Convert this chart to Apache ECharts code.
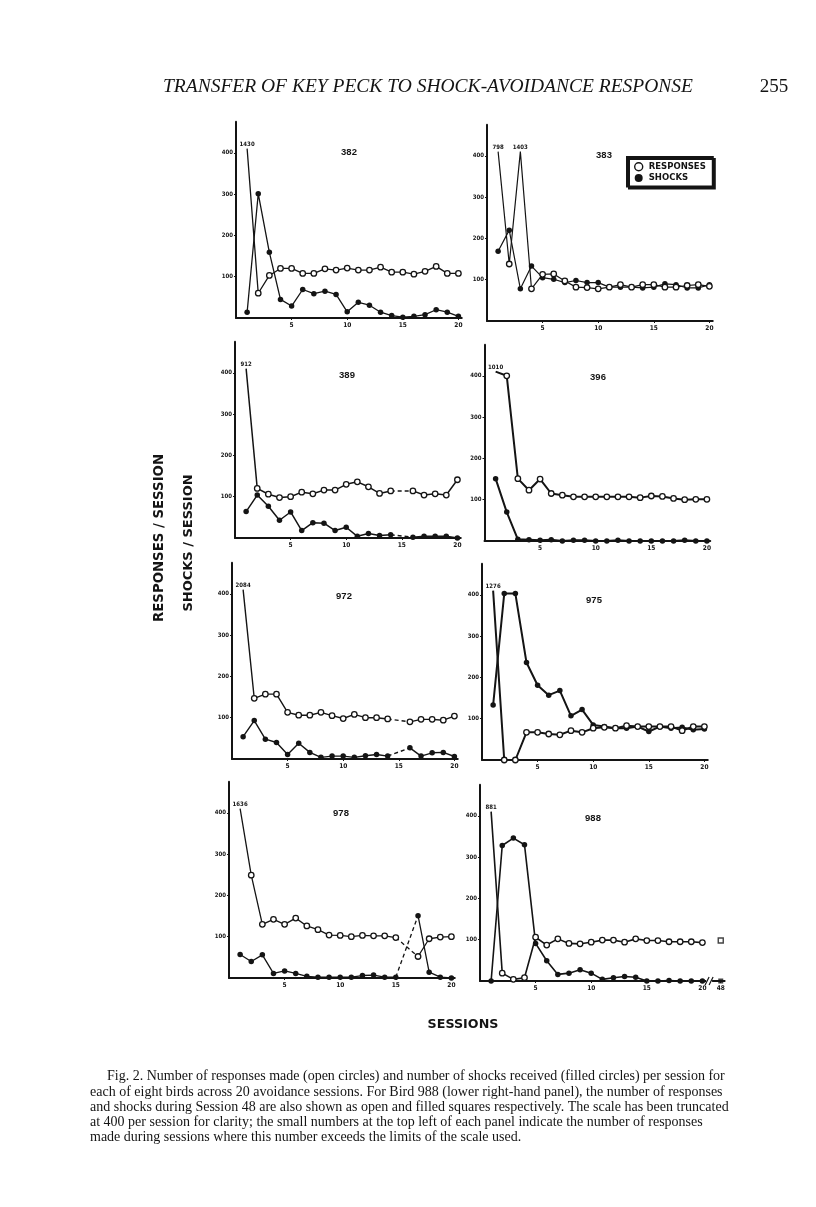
<!DOCTYPE html>
<html>
<head>
<meta charset="utf-8">
<script src="https://cdn.jsdelivr.net/npm/echarts@6.0.0/dist/echarts.min.js"></script>
<style>
  html, body { margin: 0; padding: 0; background: #fff; }
  #chart { width: 816px; height: 1207px; }
</style>
</head>
<body>
<div id="chart"></div>
<script>
// ---------------- DATA ----------------
const sessions = [1, 2, 3, 4, 5, 6, 7, 8, 9, 10, 11, 12, 13, 14, 15, 16, 17, 18, 19, 20];
const panelNames = ['382', '383', '389', '396', '972', '975', '978', '988'];

const resp382  = [1430, 60, 103, 120, 120, 108, 108, 119, 116, 121, 116, 116, 123, 111, 111, 106, 113, 125, 108, 108];
const shock382 = [14, 301, 159, 45, 29, 69, 59, 65, 57, 15, 38, 31, 14, 6, 2, 4, 8, 20, 14, 4];

const resp383  = [798, 138, 1403, 78, 113, 114, 97, 82, 81, 78, 82, 88, 82, 88, 88, 82, 82, 86, 88, 84];
const shock383 = [169, 220, 78, 133, 105, 101, 93, 98, 93, 93, 82, 82, 82, 80, 82, 90, 88, 80, 80, 88];

const resp389  = [912, 120, 106, 98, 100, 111, 107, 116, 116, 130, 136, 124, 108, 114, null, 114, 104, 107, 104, 141];
const shock389 = [64, 104, 77, 43, 63, 18, 37, 36, 18, 26, 4, 11, 6, 8, null, 2, 4, 4, 4, 0];

const resp396  = [1010, 400, 151, 123, 150, 115, 111, 107, 107, 107, 107, 107, 107, 105, 109, 108, 103, 100, 101, 101];
const shock396 = [151, 70, 4, 3, 2, 3, 0, 2, 2, 0, 0, 2, 0, 0, 0, 0, 0, 2, 0, 0];

const resp972  = [2084, 147, 157, 157, 113, 106, 106, 113, 105, 98, 108, 100, 100, 97, null, 90, 96, 96, 94, 104];
const shock972 = [54, 93, 48, 40, 11, 38, 16, 4, 7, 7, 4, 8, 11, 7, null, 27, 7, 15, 16, 6];

const resp975  = [1276, 0, 0, 67, 67, 63, 61, 71, 67, 77, 79, 77, 83, 81, 81, 81, 81, 71, 81, 81];
const shock975 = [133, 403, 403, 236, 181, 157, 168, 107, 122, 85, 81, 77, 77, 81, 69, 81, 77, 79, 73, 75];

const resp978  = [1636, 249, 130, 142, 130, 145, 126, 117, 104, 103, 100, 103, 102, 102, 98, null, 52, 95, 99, 100];
const shock978 = [57, 40, 56, 11, 17, 11, 4, 2, 2, 2, 2, 6, 7, 2, 2, null, 151, 14, 2, 0];

const resp988  = [881, 19, 4, 8, 106, 87, 102, 91, 90, 94, 99, 99, 94, 102, 98, 98, 95, 95, 95, 93];
const shock988 = [0, 328, 346, 330, 91, 49, 16, 19, 27, 19, 4, 8, 11, 9, 0, 0, 1, 0, 0, 0];

// Session 48 for bird 988 (squares)
const session48Label = '48';
const resp988s48 = 98;
const shock988s48 = 0;

const yTickValues = [100, 200, 300, 400];
const xTickValues = [5, 10, 15, 20];

const allResp  = [resp382, resp383, resp389, resp396, resp972, resp975, resp978, resp988];
const allShock = [shock382, shock383, shock389, shock396, shock972, shock975, shock978, shock988];

// ---------------- LAYOUT ----------------
const CAP = 410;        // off-scale values are drawn truncated here
const OFFSCALE = 450;
const Y_MAX = 475;
const PX_SESSION = 11.12;
const PX_100 = 41.3;
const S48_POS = 21.65;  // display position of session 48 after the axis break
const BREAK_POS = 20.6;

// [axis-left x, zero-line y, x max, line width]
const layout = [
  [236, 318, 20.3, 1.3],
  [487, 321, 20.3, 1.2],
  [235, 538, 20.3, 1.5],
  [484.5, 541, 20.3, 2.0],
  [232, 759, 20.3, 1.4],
  [482, 760, 20.3, 2.0],
  [229, 978, 20.3, 1.3],
  [480, 981, 22.0, 1.6]
];
const titlePos = [[349, 152], [604, 155], [347, 375], [598, 377], [344, 596], [594, 600], [341, 813], [593, 818]];

const INK = '#141414';
const NARROW = '"Liberation Sans Narrow","DejaVu Sans Condensed",sans-serif';

const grids = [], xAxes = [], yAxes = [], series = [];

function pointData(arr) {
  return sessions.map((s, i) => {
    const v = arr[i];
    if (v === null) return [s, '-'];
    if (v > OFFSCALE) {
      return {
        value: [s, CAP],
        symbol: 'circle',
        symbolSize: 1,
        itemStyle: { color: 'rgba(0,0,0,0)', borderColor: 'rgba(0,0,0,0)', borderWidth: 0 },
        label: {
          show: true, position: 'top', distance: 1,
          formatter: String(v),
          fontSize: 6, fontWeight: 'bold', color: INK, fontFamily: NARROW
        }
      };
    }
    return [s, v];
  });
}

function gapData(arr) {
  const out = [];
  arr.forEach((v, i) => {
    if (v === null && i > 0 && i < arr.length - 1) {
      if (out.length) out.push([sessions[i], '-']);
      out.push([sessions[i - 1], Math.min(arr[i - 1], CAP)]);
      out.push([sessions[i + 1], Math.min(arr[i + 1], CAP)]);
    }
  });
  return out;
}

panelNames.forEach((name, k) => {
  const [left, zero, xMax, lw] = layout[k];
  const h = Y_MAX * PX_100 / 100;
  grids.push({ left: left, top: zero - h, width: xMax * PX_SESSION, height: h });

  const isLast = k === 7;
  const xVals = isLast ? xTickValues.concat([S48_POS]) : xTickValues;
  xAxes.push({
    type: 'value', gridIndex: k, min: 0, max: xMax,
    axisLine: { show: true, onZero: false, lineStyle: { color: INK, width: 2 } },
    axisTick: { show: true, customValues: xVals, length: 2, lineStyle: { color: INK, width: 1 } },
    axisLabel: {
      show: true, customValues: xVals, margin: 4,
      fontSize: 6.5, fontWeight: 'bold', color: INK, fontFamily: NARROW,
      formatter: v => (Math.abs(v - S48_POS) < 1e-6 ? session48Label : (xTickValues.indexOf(v) >= 0 ? String(v) : ''))
    },
    splitLine: { show: false }
  });
  yAxes.push({
    type: 'value', gridIndex: k, min: 0, max: Y_MAX,
    axisLine: { show: true, onZero: false, lineStyle: { color: INK, width: 2 } },
    axisTick: { show: true, customValues: yTickValues, length: 2, lineStyle: { color: INK, width: 1 } },
    axisLabel: {
      show: true, customValues: yTickValues, margin: 3,
      fontSize: 6, fontWeight: 'bold', color: INK, fontFamily: NARROW,
      formatter: v => (yTickValues.indexOf(v) >= 0 ? String(v) : '')
    },
    splitLine: { show: false }
  });

  const resp = allResp[k], shock = allShock[k];
  series.push({
    name: 'SHOCKS', type: 'line', xAxisIndex: k, yAxisIndex: k,
    data: pointData(shock), connectNulls: false,
    symbol: 'circle', symbolSize: 5.5, showAllSymbol: true,
    itemStyle: { color: INK },
    lineStyle: { color: INK, width: lw },
    z: 3, clip: false
  });
  series.push({
    name: 'RESPONSES', type: 'line', xAxisIndex: k, yAxisIndex: k,
    data: pointData(resp), connectNulls: false,
    symbol: 'circle', symbolSize: 5.5, showAllSymbol: true,
    itemStyle: { color: '#fff', borderColor: INK, borderWidth: 1.3 },
    lineStyle: { color: INK, width: lw },
    z: 4, clip: false
  });
  const gr = gapData(resp), gs = gapData(shock);
  if (gr.length) series.push({
    name: 'responses (gap)', type: 'line', xAxisIndex: k, yAxisIndex: k, data: gr,
    symbol: 'none', lineStyle: { color: INK, width: lw, type: [4, 3] }, z: 2
  });
  if (gs.length) series.push({
    name: 'shocks (gap)', type: 'line', xAxisIndex: k, yAxisIndex: k, data: gs,
    symbol: 'none', lineStyle: { color: INK, width: lw, type: [4, 3] }, z: 2
  });
});

// Bird 988: session 48 squares and axis break
series.push({
  name: 'RESPONSES (session 48)', type: 'scatter', xAxisIndex: 7, yAxisIndex: 7,
  data: [[S48_POS, resp988s48]], symbol: 'rect', symbolSize: 5,
  itemStyle: { color: '#fff', borderColor: INK, borderWidth: 1.4 }, z: 5
});
series.push({
  name: 'SHOCKS (session 48)', type: 'scatter', xAxisIndex: 7, yAxisIndex: 7,
  data: [[S48_POS, shock988s48]], symbol: 'rect', symbolSize: 5,
  itemStyle: { color: INK }, z: 5, clip: false
});
series.push({
  name: 'axis break', type: 'custom', xAxisIndex: 7, yAxisIndex: 7,
  data: [[BREAK_POS, 0]], clip: false, z: 6,
  renderItem: (params, api) => {
    const c = api.coord([api.value(0), api.value(1)]);
    const mk = dx => ({ type: 'line', shape: { x1: c[0] + dx - 2, y1: c[1] + 4, x2: c[0] + dx + 2, y2: c[1] - 4 },
      style: { stroke: INK, lineWidth: 1.2 } });
    return { type: 'group', children: [
      { type: 'rect', shape: { x: c[0] - 3, y: c[1] - 2, width: 6, height: 4 }, style: { fill: '#fff' } },
      mk(-2), mk(2)
    ] };
  }
});

// ---------------- TEXT ----------------
const captionLines = [
  'Fig. 2. Number of responses made (open circles) and number of shocks received (filled circles) per session for',
  'each of eight birds across 20 avoidance sessions. For Bird 988 (lower right-hand panel), the number of responses',
  'and shocks during Session 48 are also shown as open and filled squares respectively. The scale has been truncated',
  'at 400 per session for clarity; the small numbers at the top left of each panel indicate the number of responses',
  'made during sessions where this number exceeds the limits of the scale used.'
];
const headerText = 'TRANSFER OF KEY PECK TO SHOCK-AVOIDANCE RESPONSE';
const pageNumber = '255';
const yTitle1 = 'RESPONSES / SESSION';
const yTitle2 = 'SHOCKS / SESSION';
const xTitle = 'SESSIONS';

const graphics = [];
graphics.push({ type: 'text', x: 163, y: 87, style: { text: headerText, font: 'italic 19.5px "Liberation Serif"', fill: INK, textAlign: 'left', textVerticalAlign: 'middle' } });
graphics.push({ type: 'text', x: 774, y: 87, style: { text: pageNumber, font: '19px "Liberation Serif"', fill: INK, textAlign: 'center', textVerticalAlign: 'middle' } });
panelNames.forEach((n, k) => {
  graphics.push({ type: 'text', x: titlePos[k][0], y: titlePos[k][1], style: { text: n, font: 'bold 9.5px "Liberation Sans"', fill: INK, textAlign: 'center', textVerticalAlign: 'middle' } });
});
graphics.push({ type: 'text', x: 160, y: 538, rotation: Math.PI / 2, style: { text: yTitle1, font: 'bold 13.3px "DejaVu Sans"', fill: INK, textAlign: 'center', textVerticalAlign: 'middle' } });
graphics.push({ type: 'text', x: 189, y: 543, rotation: Math.PI / 2, style: { text: yTitle2, font: 'bold 13px "DejaVu Sans"', fill: INK, textAlign: 'center', textVerticalAlign: 'middle' } });
graphics.push({ type: 'text', x: 463, y: 1025, style: { text: xTitle, font: 'bold 12.7px "DejaVu Sans"', fill: INK, textAlign: 'center', textVerticalAlign: 'middle' } });
const capY = [1076, 1092, 1107, 1122, 1137];
captionLines.forEach((t, i) => {
  graphics.push({ type: 'text', x: i === 0 ? 107 : 90, y: capY[i], style: { text: t, font: '14px "Liberation Serif"', fill: INK, textAlign: 'left', textVerticalAlign: 'middle' } });
});

const chart = echarts.init(document.getElementById('chart'), null, { renderer: 'canvas', width: 816, height: 1207 });
chart.setOption({
  backgroundColor: '#fff',
  animation: false,
  grid: grids,
  xAxis: xAxes,
  yAxis: yAxes,
  series: series,
  legend: {
    show: true,
    left: 627, top: 157,
    orient: 'vertical',
    itemGap: 2, itemWidth: 8, itemHeight: 8,
    padding: [5, 7, 4, 7],
    borderColor: INK, borderWidth: 2,
    backgroundColor: '#fff',
    shadowColor: INK, shadowOffsetX: 2, shadowOffsetY: 2, shadowBlur: 0,
    selectedMode: false,
    textStyle: { fontSize: 8.5, fontWeight: 'bold', color: INK, fontFamily: '"DejaVu Sans"', padding: [0, 0, 0, 1] },
    data: [
      { name: 'RESPONSES', icon: 'circle', itemStyle: { color: '#fff', borderColor: INK, borderWidth: 1.4 } },
      { name: 'SHOCKS', icon: 'circle', itemStyle: { color: INK } }
    ]
  },
  graphic: graphics
});
</script>
</body>
</html>
